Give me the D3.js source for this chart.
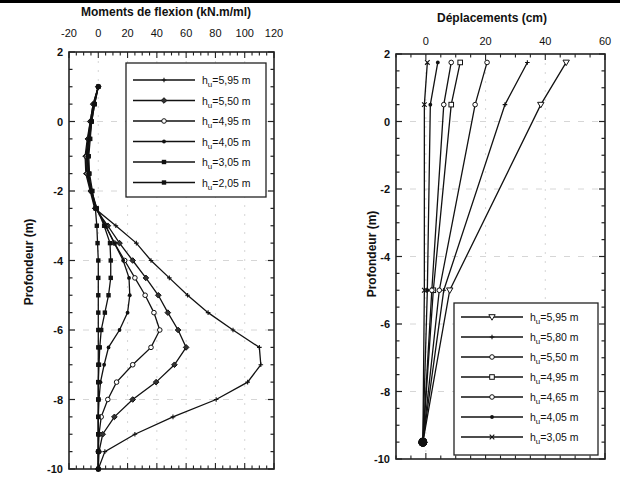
<!DOCTYPE html>
<html><head><meta charset="utf-8">
<script src="https://cdn.jsdelivr.net/npm/d3@7"></script>
<style>
body{margin:0;background:#fff;}
text{font-family:"Liberation Sans",Arial,sans-serif;fill:#111;}
</style></head>
<body><svg id="c" width="620" height="483"></svg>
<script>
// ---------- Data ----------
const momentDepths = [1,0.5,0,-0.5,-1,-1.5,-2,-2.5,-3,-3.5,-4,-4.5,-5,-5.5,-6,-6.5,-7,-7.5,-8,-8.5,-9,-9.5,-10];
const momentLabels = ["5,95","5,50","4,95","4,05","3,05","2,05"];
const m595 = [0,-3.5,-5.5,-7.5,-9,-8.5,-5.5,-2.5,12,26,36,48.5,61,75,92,110,111,102,80.5,51,25,4.5,0];
const m550 = [0,-3.5,-5.5,-7,-8.5,-8,-5,-2,6.5,14.5,23.5,32.5,41,47.5,54.5,60,52,39.5,23.5,11,3,0.5,0];
const m495 = [0,-3,-5,-6.5,-8,-7.5,-5,-1.5,5,11,18,25,32,38,42,36,23.5,12.5,6.5,2,0.5,0,0];
const m405 = [0,-3,-5,-6.5,-7.5,-7,-5,-1,5,11,17,21,21.5,20,14.5,7,4,1.5,0.5,0,0,0,0];
const m305 = [0,-2.5,-4.5,-6,-7,-6.5,-4.5,-1,4,8,8.5,8.5,7,4.5,2,1,0.5,0,0,0,0,0,0];
const m205 = [0,-2.5,-4.5,-5.5,-6.5,-6,-4,-2,-1,-0.5,0,0,0,0,0,0,0,0,0,0,0,0,0];
const momentSeries = [m595,m550,m495,m405,m305,m205];
const momentTicksX = [-20,0,20,40,60,80,100,120];
const depthTicks = [2,0,-2,-4,-6,-8,-10];

const dispDepths = [1.75,0.5,-5,-9.5];
const dispLabels = ["5,95","5,80","5,50","4,95","4,65","4,05","3,05"];
const d595 = [47,38.5,8,-1];
const d580 = [34,26.5,6,-1];
const d550 = [20.5,16.5,4.5,-1];
const d495 = [11.5,8.5,2.5,-1];
const d465 = [8.5,6,2,-1];
const d405 = [4,1.5,0.5,-1];
const d305 = [0.5,-0.5,-0.5,-1];
const dispSeries = [d595,d580,d550,d495,d465,d405,d305];
const dispTicksX = [0,20,40,60];

// ---------- Drawing ----------
const svg = d3.select("#c");
svg.append("rect").attr("x",0).attr("y",0).attr("width",620).attr("height",3).attr("fill","#000");

function marker(g, type, x, y){
  const s = 2.3;
  if(type==="plus"){
    g.append("path").attr("d",`M${x},${y-s}V${y+s}M${x-s},${y}H${x+s}`).attr("stroke","#111").attr("stroke-width",1.1).attr("fill","none");
  } else if(type==="x"){
    g.append("path").attr("d",`M${x-s},${y-s}L${x+s},${y+s}M${x-s},${y+s}L${x+s},${y-s}`).attr("stroke","#111").attr("stroke-width",1.1).attr("fill","none");
  } else if(type==="diamond"){
    g.append("path").attr("d",`M${x},${y-2.8}L${x+2.8},${y}L${x},${y+2.8}L${x-2.8},${y}Z`).attr("fill","#333").attr("stroke","#111");
  } else if(type==="circle"){
    g.append("circle").attr("cx",x).attr("cy",y).attr("r",2.3).attr("fill","#fff").attr("stroke","#111").attr("stroke-width",1);
  } else if(type==="dot"){
    g.append("circle").attr("cx",x).attr("cy",y).attr("r",1.9).attr("fill","#111");
  } else if(type==="square"){
    g.append("rect").attr("x",x-2.2).attr("y",y-2.2).attr("width",4.4).attr("height",4.4).attr("fill","#111");
  } else if(type==="osquare"){
    g.append("rect").attr("x",x-2.3).attr("y",y-2.3).attr("width",4.6).attr("height",4.6).attr("fill","#fff").attr("stroke","#111");
  } else if(type==="tri"){
    g.append("path").attr("d",`M${x-3.2},${y-2.3}L${x+3.2},${y-2.3}L${x},${y+3.2}Z`).attr("fill","#fff").attr("stroke","#111").attr("stroke-width",1);
  } else if(type==="big"){
    g.append("circle").attr("cx",x).attr("cy",y).attr("r",4.3).attr("fill","#111");
  }
}

function panel(opt){
  const {x0,x1,y0,y1,xDom,xTicks,xMinorStep,series,depths,markers,title,titleX,titleY,labY,ylabX,ylabY,legend,bigLast} = opt;
  const x = d3.scaleLinear().domain(xDom).range([x0,x1]);
  const y = d3.scaleLinear().domain([2,-10]).range([y0,y1]);
  const g = svg.append("g");
  xTicks.filter(t=>t>xDom[0]&&t<xDom[1]).forEach(t=>{
    g.append("line").attr("x1",x(t)).attr("x2",x(t)).attr("y1",y0).attr("y2",y1)
      .attr("stroke","#ccc").attr("stroke-width",0.8).attr("stroke-dasharray","2,7");
  });
  depthTicks.filter(t=>t<2&&t>-10).forEach(t=>{
    g.append("line").attr("x1",x0).attr("x2",x1).attr("y1",y(t)).attr("y2",y(t))
      .attr("stroke","#ccc").attr("stroke-width",0.8).attr("stroke-dasharray","6,8");
  });
  g.append("rect").attr("x",x0).attr("y",y0).attr("width",x1-x0).attr("height",y1-y0)
    .attr("fill","none").attr("stroke","#222").attr("stroke-width",1.6);
  for(let v=-10; v<=2.001; v+=0.5){
    const major = Math.abs(v%2)<1e-6;
    const L = major?6:3.5;
    g.append("line").attr("x1",x0).attr("x2",x0+L).attr("y1",y(v)).attr("y2",y(v)).attr("stroke","#222").attr("stroke-width",1.2);
    g.append("line").attr("x1",x1).attr("x2",x1-L).attr("y1",y(v)).attr("y2",y(v)).attr("stroke","#222").attr("stroke-width",1.2);
  }
  for(let v=xDom[0]; v<=xDom[1]+1e-6; v+=xMinorStep){
    const major = xTicks.includes(v);
    const L = major?6:3.5;
    g.append("line").attr("x1",x(v)).attr("x2",x(v)).attr("y1",y0).attr("y2",y0+L).attr("stroke","#222").attr("stroke-width",1.1);
    g.append("line").attr("x1",x(v)).attr("x2",x(v)).attr("y1",y1).attr("y2",y1-L).attr("stroke","#222").attr("stroke-width",1.1);
  }
  xTicks.forEach(t=>{
    g.append("text").attr("x",x(t)).attr("y",labY).attr("text-anchor","middle").attr("font-size",11).text(t);
  });
  depthTicks.forEach(t=>{
    g.append("text").attr("x",x0-6).attr("y",y(t)+4).attr("text-anchor","end").attr("font-size",11).attr("font-weight","bold").text(t);
  });
  g.append("text").attr("x",titleX).attr("y",titleY).attr("text-anchor","middle").attr("font-size",12).attr("font-weight","bold").text(title);
  g.append("text").attr("transform",`translate(${ylabX},${ylabY}) rotate(-90)`).attr("text-anchor","middle").attr("font-size",12).attr("font-weight","bold").text("Profondeur (m)");
  const line = d3.line().x(d=>x(d[0])).y(d=>y(d[1]));
  series.forEach((s,i)=>{
    const pts = s.map((v,j)=>[v,depths[j]]);
    g.append("path").attr("d",line(pts)).attr("fill","none").attr("stroke","#111").attr("stroke-width",1.3);
    pts.forEach((p,j)=>marker(g,(bigLast&&j===pts.length-1)?"big":markers[i],x(p[0]),y(p[1])));
  });
  const L = legend;
  const lg = svg.append("g");
  lg.append("rect").attr("x",L.x).attr("y",L.y).attr("width",L.w).attr("height",L.h).attr("fill","#fff").attr("stroke","#222").attr("stroke-width",1.3);
  L.labels.forEach((lab,i)=>{
    const yy = L.y + L.first + i*L.step;
    lg.append("line").attr("x1",L.x+7).attr("x2",L.x+L.lineW+7).attr("y1",yy).attr("y2",yy).attr("stroke","#111").attr("stroke-width",1.4);
    marker(lg, markers[i], L.x+7+L.lineW/2, yy);
    const t = lg.append("text").attr("x",L.x+L.lineW+14).attr("y",yy+4).attr("font-size",10.5);
    t.append("tspan").text("h");
    t.append("tspan").attr("dy",3).attr("font-size",8).text("u");
    t.append("tspan").attr("dy",-3).text("="+lab+" m");
  });
  return {x,y};
}

panel({x0:69,x1:274,y0:52,y1:469,xDom:[-20,120],xTicks:momentTicksX,xMinorStep:5,
  series:momentSeries,depths:momentDepths,markers:["plus","diamond","circle","dot","square","square"],
  title:"Moments de flexion (kN.m/ml)",titleX:166,titleY:16,labY:37,ylabX:33,ylabY:262,
  legend:{x:126,y:63,w:140,h:134,first:17,step:20.5,lineW:62,labels:momentLabels}});

panel({x0:396,x1:605,y0:54,y1:459,xDom:[-10,60],xTicks:dispTicksX,xMinorStep:5,bigLast:true,
  series:dispSeries,depths:dispDepths,markers:["tri","plus","circle","osquare","circle","dot","x"],
  title:"Déplacements (cm)",titleX:492,titleY:22,labY:45,ylabX:376,ylabY:254,
  legend:{x:454,y:303,w:144,h:152,first:14,step:20,lineW:62,labels:dispLabels}});
</script></body></html>
